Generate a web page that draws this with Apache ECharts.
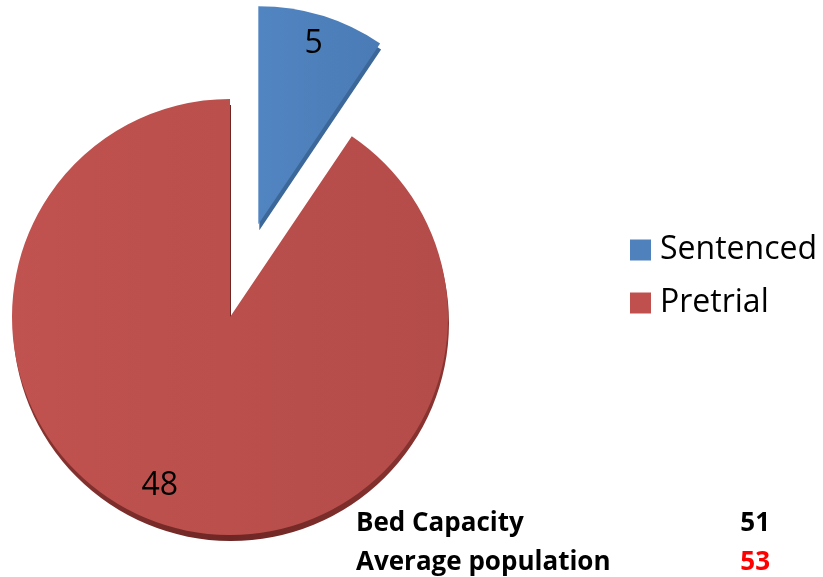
<!DOCTYPE html>
<html>
<head>
<meta charset="utf-8">
<script src="https://cdn.jsdelivr.net/npm/echarts@6/dist/echarts.min.js"></script>
<style>
  html, body { margin: 0; padding: 0; background: #ffffff; }
  #chart { width: 823px; height: 577px; }
</style>
</head>
<body>
<div id="chart"></div>
<script>
// Population breakdown
const categories = ['Sentenced', 'Pretrial'];
const counts = [5, 48];
const explodedCategory = 'Sentenced';

// Summary figures listed under the legend
const summaryLabels = ['Bed Capacity', 'Average population'];
const summaryValues = [51, 53];

const FONT = '"Open Sans", "Noto Sans", sans-serif';
const CENTER = [230, 317];
const R = 218;
const EXPLODE = 97;

const baseColors = { Sentenced: '#4F81BD', Pretrial: '#C0504D' };
const faceColors = {
  Sentenced: new echarts.graphic.LinearGradient(0, 0, 1, 0, [
    { offset: 0, color: '#5185C1' }, { offset: 1, color: '#4A7BB6' }
  ]),
  Pretrial: new echarts.graphic.LinearGradient(0, 0, 1, 0, [
    { offset: 0, color: '#C0524F' }, { offset: 1, color: '#B44C49' }
  ])
};
const rimColors = {
  Sentenced: '#3B6799',
  Pretrial: new echarts.graphic.LinearGradient(0, 0, 1, 0, [
    { offset: 0, color: '#8A3532' }, { offset: 0.5, color: '#6E2624' }, { offset: 1, color: '#8A3532' }
  ])
};
// small nudges so each value sits where it reads best on its slice
const labelNudge = { Sentenced: [-3, 0], Pretrial: [-15, -12] };

function buildData(colorMap, withLabels) {
  return categories.map((name, i) => {
    const item = {
      name: name,
      value: counts[i],
      selected: name === explodedCategory,
      itemStyle: colorMap ? { color: colorMap[name] } : { color: 'rgba(0,0,0,0)' }
    };
    if (withLabels) item.label = { offset: labelNudge[name] };
    return item;
  });
}

const common = {
  type: 'pie',
  startAngle: 90,
  clockwise: true,
  selectedMode: 'single',
  selectedOffset: EXPLODE,
  silent: true,
  emphasis: { disabled: true },
  labelLine: { show: false },
  animation: false
};

const chart = echarts.init(document.getElementById('chart'), null, { renderer: 'canvas' });

chart.setOption({
  backgroundColor: '#ffffff',
  animation: false,
  legend: {
    orient: 'vertical',
    left: 630,
    top: 234,
    padding: 0,
    itemWidth: 21,
    itemHeight: 21,
    itemGap: 21,
    icon: 'rect',
    selectedMode: false,
    data: categories.map(name => ({ name: name, itemStyle: { color: baseColors[name] } })),
    textStyle: { fontFamily: FONT, fontSize: 32, color: '#000', lineHeight: 32, padding: [0, 0, 0, 4] }
  },
  series: [
    // darker copy slightly lower, showing as the pie's edge
    Object.assign({}, common, {
      name: 'edge',
      center: [CENTER[0] + 1, CENTER[1] + 6],
      radius: R,
      z: 1,
      label: { show: false },
      legendHoverLink: false,
      data: buildData(rimColors, false)
    }),
    Object.assign({}, common, {
      name: 'Population',
      center: CENTER,
      radius: R,
      z: 2,
      label: { show: false },
      data: buildData(faceColors, false)
    }),
    // transparent ring used to place the value labels near the rim
    Object.assign({}, common, {
      name: 'values',
      center: CENTER,
      radius: [154, R],
      z: 3,
      label: {
        show: true,
        position: 'inside',
        formatter: '{c}',
        fontFamily: FONT,
        fontSize: 32,
        color: '#000'
      },
      data: buildData(null, true)
    })
  ],
  graphic: summaryLabels.flatMap((label, i) => [
    {
      type: 'text',
      x: 356,
      y: 524 + i * 39,
      style: { text: label, font: 'bold 26px ' + FONT, fill: '#000', align: 'left', verticalAlign: 'middle' }
    },
    {
      type: 'text',
      x: 770,
      y: 524 + i * 39,
      style: {
        text: String(summaryValues[i]),
        font: 'bold 26px ' + FONT,
        fill: summaryValues[i] > summaryValues[0] ? '#FF0000' : '#000',
        align: 'right',
        verticalAlign: 'middle'
      }
    }
  ])
});
</script>
</body>
</html>
